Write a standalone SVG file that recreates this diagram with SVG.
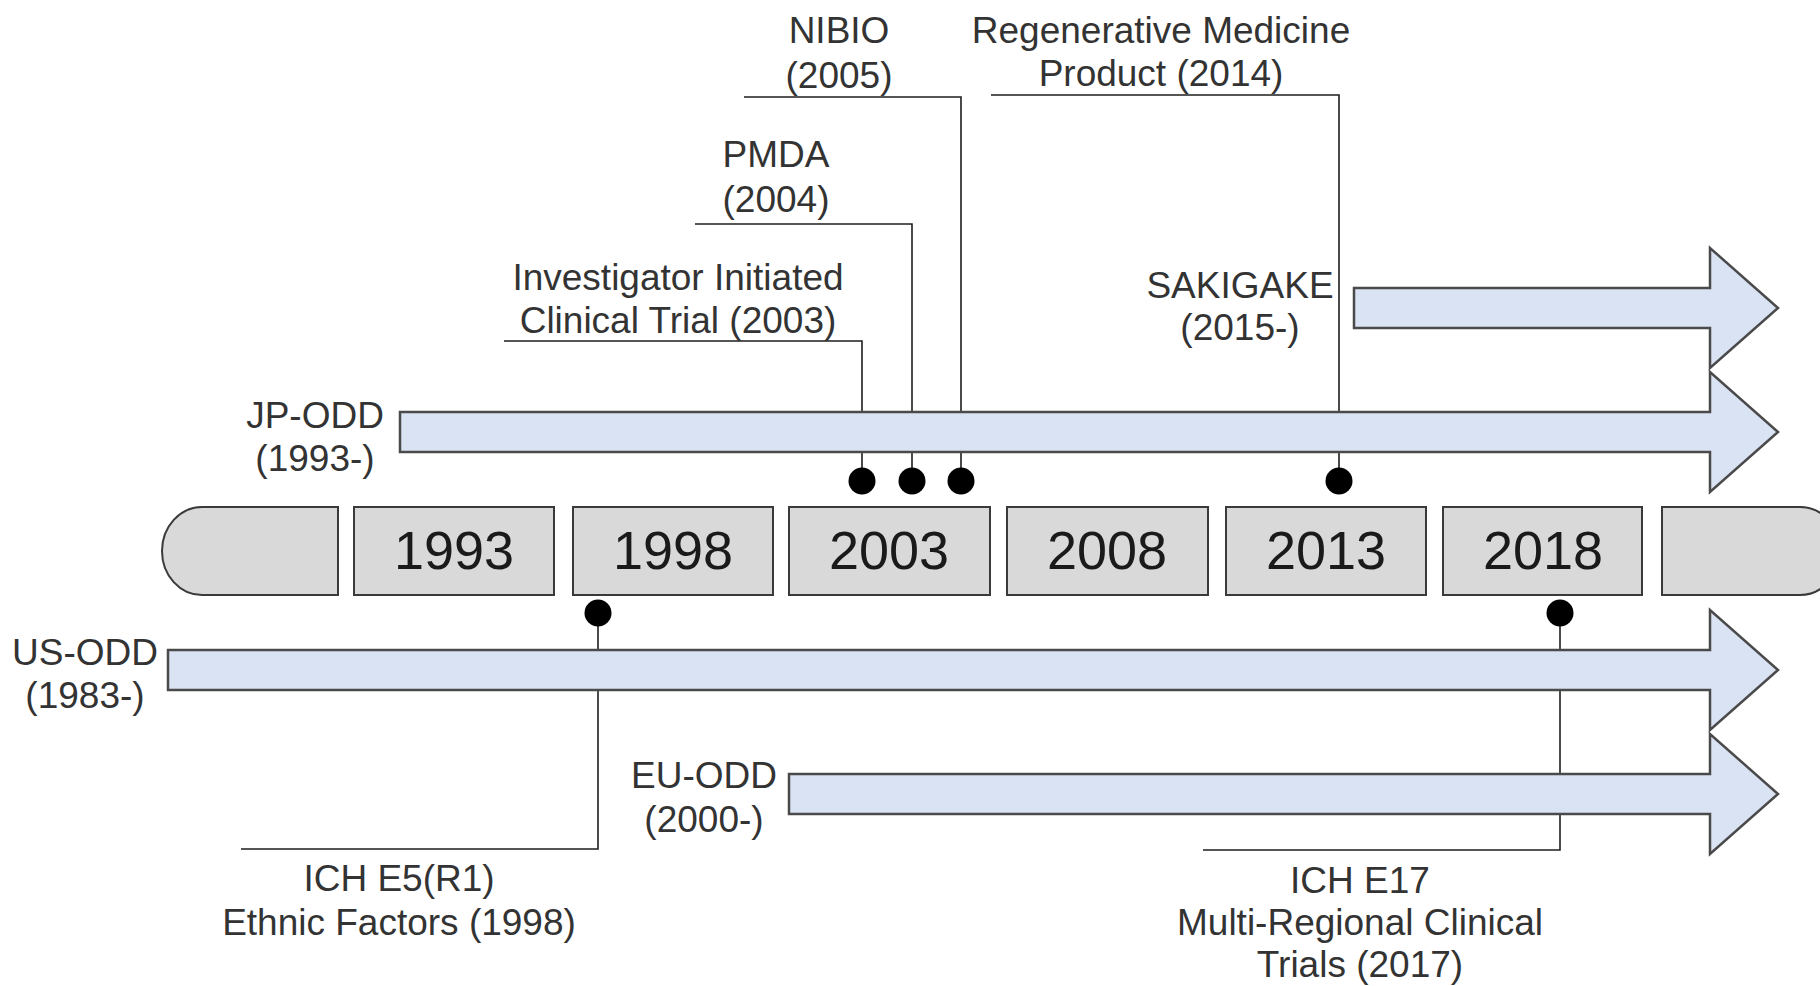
<svg xmlns="http://www.w3.org/2000/svg" width="1820" height="986" viewBox="0 0 1820 986">
<style>
.bg{fill:#ffffff}
.conn{fill:none;stroke:#1e1e1e;stroke-width:1.6}
.dot{fill:#000000}
.arrow{fill:#dae3f3;stroke:#4a4a4a;stroke-width:2.5;stroke-linejoin:miter}
.box{fill:#d9d9d9;stroke:#3a3a3a;stroke-width:2}
.year{font-family:"Liberation Sans",Arial,sans-serif;font-size:54px;fill:#1a1a1a;text-anchor:middle}
.lbl{font-family:"Liberation Sans",Arial,sans-serif;font-size:37px;fill:#333333;text-anchor:middle}
</style>
<rect class="bg" x="0" y="0" width="1820" height="986"/>

<g id="connectors">
  <path class="conn" d="M504,341 H862 V481"/>
  <path class="conn" d="M695,224 H912 V481"/>
  <path class="conn" d="M744,97 H961 V481"/>
  <path class="conn" d="M991,95 H1339 V481"/>
  <path class="conn" d="M598,613 V849 H241"/>
  <path class="conn" d="M1560,613 V850 H1203"/>
  <circle class="dot" cx="862" cy="481" r="13.5"/>
  <circle class="dot" cx="912" cy="481" r="13.5"/>
  <circle class="dot" cx="961" cy="481" r="13.5"/>
  <circle class="dot" cx="1339" cy="481" r="13.5"/>
  <circle class="dot" cx="598" cy="613" r="13.5"/>
  <circle class="dot" cx="1560" cy="613" r="13.5"/>
</g>

<g id="sakigake">
  <path class="arrow" d="M1354,288 H1710 V248 L1778,308 L1710,368 V328 H1354 Z"/>
  <text class="lbl" x="1240" y="298">SAKIGAKE</text>
  <text class="lbl" x="1240" y="340">(2015-)</text>
</g>
<g id="jp-odd">
  <path class="arrow" d="M400,412 H1710 V372 L1778,432 L1710,492 V452 H400 Z"/>
  <text class="lbl" x="315" y="428">JP-ODD</text>
  <text class="lbl" x="315" y="471">(1993-)</text>
</g>
<g id="us-odd">
  <path class="arrow" d="M168,650 H1710 V610 L1778,670 L1710,730 V690 H168 Z"/>
  <text class="lbl" x="85" y="665">US-ODD</text>
  <text class="lbl" x="85" y="708">(1983-)</text>
</g>
<g id="eu-odd">
  <path class="arrow" d="M789,774 H1710 V734 L1778,794 L1710,854 V814 H789 Z"/>
  <text class="lbl" x="704" y="788">EU-ODD</text>
  <text class="lbl" x="704" y="832">(2000-)</text>
</g>

<g id="timeline">
  <path class="box" d="M338,507 H202 A40,44 0 0 0 202,595 H338 Z"/>
  <g id="y1993"><rect class="box" x="354" y="507" width="200" height="88"/><text class="year" x="454" y="569">1993</text></g>
  <g id="y1998"><rect class="box" x="573" y="507" width="200" height="88"/><text class="year" x="673" y="569">1998</text></g>
  <g id="y2003"><rect class="box" x="789" y="507" width="201" height="88"/><text class="year" x="889" y="569">2003</text></g>
  <g id="y2008"><rect class="box" x="1007" y="507" width="201" height="88"/><text class="year" x="1107" y="569">2008</text></g>
  <g id="y2013"><rect class="box" x="1226" y="507" width="200" height="88"/><text class="year" x="1326" y="569">2013</text></g>
  <g id="y2018"><rect class="box" x="1443" y="507" width="199" height="88"/><text class="year" x="1543" y="569">2018</text></g>
  <path class="box" d="M1662,507 H1800 A40,44 0 0 1 1800,595 H1662 Z"/>
</g>

<g id="nibio">
  <text class="lbl" x="839" y="43">NIBIO</text>
  <text class="lbl" x="839" y="88">(2005)</text>
</g>
<g id="pmda">
  <text class="lbl" x="776" y="167">PMDA</text>
  <text class="lbl" x="776" y="212">(2004)</text>
</g>
<g id="iict">
  <text class="lbl" x="678" y="290">Investigator Initiated</text>
  <text class="lbl" x="678" y="333">Clinical Trial (2003)</text>
</g>
<g id="regen">
  <text class="lbl" x="1161" y="43">Regenerative Medicine</text>
  <text class="lbl" x="1161" y="86">Product (2014)</text>
</g>
<g id="ich-e5">
  <text class="lbl" x="399" y="891">ICH E5(R1)</text>
  <text class="lbl" x="399" y="935">Ethnic Factors (1998)</text>
</g>
<g id="ich-e17">
  <text class="lbl" x="1360" y="893">ICH E17</text>
  <text class="lbl" x="1360" y="935">Multi-Regional Clinical</text>
  <text class="lbl" x="1360" y="977">Trials (2017)</text>
</g>
</svg>
